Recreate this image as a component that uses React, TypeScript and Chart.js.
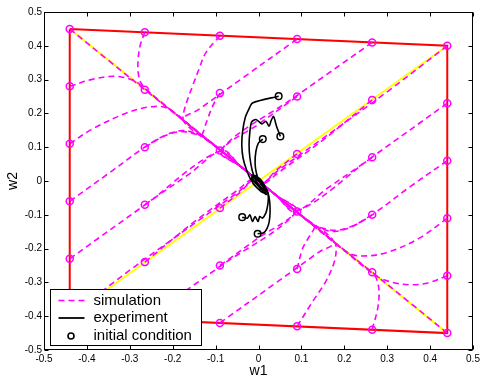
import React, { useEffect, useRef } from "react";
import { Chart, registerables } from "chart.js";

Chart.register(...registerables);

type P = [number, number];

const FONT = '"Liberation Sans", Arial, Helvetica, sans-serif';
const MAGENTA = "#ff00ff";

// axis ticks
const tickValues = [-0.5, -0.4, -0.3, -0.2, -0.1, 0, 0.1, 0.2, 0.3, 0.4, 0.5];
const xTickLabels = ["-0.5", "-0.4", "-0.3", "-0.2", "-0.1", "0", "0.1", "0.2", "0.3", "0.4", "0.5"];
const yTickLabels = ["-0.5", "-0.4", "-0.3", "-0.2", "-0.1", "0", "0.1", "0.2", "0.3", "0.4", "0.5"];
const axisTitles = { x: "w1", y: "w2" };
const legendLabels = ["simulation", "experiment", "initial condition"];

// red boundary and yellow lines
const boundary: P[] = [[-0.44, 0.45], [0.44, 0.40], [0.44, -0.45], [-0.44, -0.40], [-0.44, 0.45]];
const yellowDiag1: P[] = [[-0.44, 0.45], [0.44, -0.45]];
const yellowDiag2: P[] = [[0.44, 0.40], [-0.44, -0.40]];

// initial conditions (magenta circles)
const initRow1: P[] = [[-0.44, 0.45], [-0.265, 0.44], [-0.09, 0.43], [0.09, 0.42], [0.265, 0.41], [0.44, 0.40]];
const initRow2: P[] = [[-0.44, 0.28], [-0.265, 0.27], [-0.09, 0.26], [0.09, 0.25], [0.265, 0.24], [0.44, 0.23]];
const initRow3: P[] = [[-0.44, 0.11], [-0.265, 0.10], [-0.09, 0.09], [0.09, 0.08], [0.265, 0.07], [0.44, 0.06]];
const initRow4: P[] = [[-0.44, -0.06], [-0.265, -0.07], [-0.09, -0.08], [0.09, -0.09], [0.265, -0.10], [0.44, -0.11]];
const initRow5: P[] = [[-0.44, -0.23], [-0.265, -0.24], [-0.09, -0.25], [0.09, -0.26], [0.265, -0.27], [0.44, -0.28]];
const initRow6: P[] = [[-0.44, -0.40], [-0.265, -0.41], [-0.09, -0.42], [0.09, -0.43], [0.265, -0.44], [0.44, -0.45]];

// simulated trajectories
const simCornerUL: P[] = [[-0.44, 0.45], [-0.35, 0.357], [-0.265, 0.27], [-0.18, 0.184], [-0.09, 0.092], [0, 0]];
const simUL1: P[] = [[-0.44, 0.28], [-0.39, 0.3], [-0.335, 0.31], [-0.29, 0.297], [-0.27, 0.278], [-0.18, 0.185], [-0.09, 0.093], [0, 0]];
const simUL2: P[] = [[-0.265, 0.44], [-0.276, 0.4], [-0.281, 0.35], [-0.279, 0.31], [-0.268, 0.279], [-0.18, 0.185], [-0.09, 0.093], [0, 0]];
const simUL3: P[] = [[-0.44, 0.11], [-0.39, 0.152], [-0.31, 0.2], [-0.255, 0.219], [-0.212, 0.215], [-0.15, 0.154], [-0.07, 0.072], [0, 0]];
const simUL4: P[] = [[-0.44, -0.06], [-0.35, 0.022], [-0.265, 0.1], [-0.216, 0.136], [-0.178, 0.149], [-0.146, 0.141], [-0.123, 0.125], [-0.06, 0.062], [0, 0]];
const simUL5: P[] = [[-0.265, 0.1], [-0.218, 0.134], [-0.18, 0.146], [-0.148, 0.139], [-0.125, 0.127], [-0.06, 0.062], [0, 0]];
const simUL6: P[] = [[-0.09, 0.43], [-0.123, 0.379], [-0.139, 0.33], [-0.154, 0.28], [-0.168, 0.231], [-0.176, 0.192], [-0.174, 0.178], [-0.09, 0.093], [0, 0]];
const simUL7: P[] = [[-0.09, 0.26], [-0.107, 0.221], [-0.119, 0.182], [-0.128, 0.148], [-0.13, 0.134], [-0.06, 0.062], [0, 0]];
const simUR1: P[] = [[0.09, 0.42], [-0.04, 0.302], [-0.14, 0.211], [-0.176, 0.18], [-0.09, 0.093], [0, 0]];
const simUR2: P[] = [[0.265, 0.41], [0.09, 0.253], [-0.088, 0.091], [-0.04, 0.041], [0, 0]];
const simUR3: P[] = [[0.09, 0.25], [0.0, 0.168], [-0.086, 0.089], [-0.04, 0.041], [0, 0]];
const simUR4: P[] = [[0.44, 0.4], [0.3, 0.264], [0.15, 0.126], [0.05, 0.035], [0.008, -0.008], [0, 0]];
const simUR5: P[] = [[0.265, 0.24], [0.15, 0.121], [0.05, 0.028], [0.01, -0.01], [0, 0]];
const simUR6: P[] = [[0.09, 0.08], [0.04, 0.03], [0.01, -0.008], [0, 0]];
const simUR7: P[] = [[0.44, 0.23], [0.265, 0.071], [0.088, -0.09], [0.04, -0.041], [0, 0]];
const simUR8: P[] = [[0.265, 0.07], [0.16, -0.022], [0.086, -0.088], [0.04, -0.041], [0, 0]];
const simUR9: P[] = [[0.44, 0.06], [0.35, -0.02], [0.265, -0.1], [0.216, -0.136], [0.178, -0.149], [0.146, -0.141], [0.123, -0.125], [0.06, -0.062], [0, 0]];
const simCornerLR: P[] = [[0.44, -0.45], [0.35, -0.357], [0.265, -0.27], [0.18, -0.184], [0.09, -0.092], [0, 0]];
const simLR1: P[] = [[0.44, -0.28], [0.399, -0.3], [0.36, -0.307], [0.313, -0.3], [0.274, -0.28], [0.18, -0.185], [0.09, -0.093], [0, 0]];
const simLR2: P[] = [[0.265, -0.44], [0.278, -0.376], [0.281, -0.327], [0.276, -0.292], [0.268, -0.276], [0.18, -0.185], [0.09, -0.093], [0, 0]];
const simLR3: P[] = [[0.44, -0.11], [0.375, -0.169], [0.298, -0.212], [0.24, -0.222], [0.21, -0.213], [0.15, -0.154], [0.07, -0.072], [0, 0]];
const simLR4: P[] = [[0.265, -0.1], [0.218, -0.134], [0.18, -0.146], [0.148, -0.139], [0.125, -0.127], [0.06, -0.062], [0, 0]];
const simLR5: P[] = [[0.09, -0.43], [0.126, -0.357], [0.157, -0.297], [0.177, -0.238], [0.181, -0.195], [0.176, -0.18], [0.09, -0.093], [0, 0]];
const simLR6: P[] = [[0.09, -0.26], [0.103, -0.199], [0.118, -0.165], [0.128, -0.145], [0.13, -0.134], [0.06, -0.062], [0, 0]];
const simLL1: P[] = [[-0.09, -0.42], [0.04, -0.302], [0.14, -0.211], [0.176, -0.18], [0.09, -0.093], [0, 0]];
const simLL2: P[] = [[-0.265, -0.41], [-0.09, -0.253], [0.088, -0.091], [0.04, -0.041], [0, 0]];
const simLL3: P[] = [[-0.09, -0.25], [0.0, -0.168], [0.086, -0.089], [0.04, -0.041], [0, 0]];
const simLL4: P[] = [[-0.44, -0.4], [-0.3, -0.264], [-0.15, -0.126], [-0.05, -0.035], [-0.008, 0.008], [0, 0]];
const simLL5: P[] = [[-0.265, -0.24], [-0.15, -0.121], [-0.05, -0.028], [-0.01, 0.01], [0, 0]];
const simLL6: P[] = [[-0.09, -0.08], [-0.04, -0.03], [-0.01, 0.008], [0, 0]];
const simLL7: P[] = [[-0.44, -0.23], [-0.265, -0.071], [-0.088, 0.09], [-0.04, 0.041], [0, 0]];
const simLL8: P[] = [[-0.265, -0.07], [-0.16, 0.022], [-0.086, 0.088], [-0.04, 0.041], [0, 0]];

// experimental trajectories (black)
const exp1: P[] = [[0.047, 0.251], [-0.014, 0.231], [-0.023, 0.211], [-0.031, 0.187], [-0.037, 0.147], [-0.039, 0.108], [-0.036, 0.068], [-0.028, 0.033], [-0.018, 0.004], [-0.006, -0.016], [0.006, -0.031], [0.017, -0.036], [0.016, -0.018], [0.004, 0.006], [-0.012, 0.014], [-0.014, -0.004], [0.0, -0.024], [0.012, -0.022], [0.004, -0.006]];
const exp2: P[] = [[0.051, 0.132], [0.042, 0.162], [0.035, 0.191], [0.029, 0.177], [0.025, 0.162], [0.017, 0.177], [0.008, 0.169], [-0.006, 0.182], [-0.016, 0.175], [-0.02, 0.147], [-0.022, 0.108], [-0.02, 0.068], [-0.014, 0.028], [-0.005, -0.001], [0.008, -0.021], [0.015, -0.03], [0.01, -0.01], [-0.006, 0.008], [-0.016, 0.018], [-0.01, 0.0], [0.006, -0.02]];
const exp3: P[] = [[0.01, 0.124], [0.0, 0.113], [-0.006, 0.088], [-0.008, 0.053], [-0.005, 0.024], [0.002, -0.001], [0.013, -0.021], [0.018, -0.04], [0.01, -0.03], [-0.004, -0.01], [-0.016, 0.008], [-0.008, 0.016], [0.006, -0.004], [0.014, -0.026]];
const exp4: P[] = [[-0.038, -0.107], [-0.026, -0.11], [-0.02, -0.1], [-0.014, -0.12], [-0.008, -0.105], [-0.001, -0.12], [0.003, -0.105], [0.009, -0.11], [0.017, -0.095], [0.021, -0.075], [0.023, -0.05], [0.021, -0.031], [0.013, -0.016], [0.0, 0.0], [-0.01, 0.01]];
const exp5: P[] = [[-0.002, -0.156], [0.012, -0.153], [0.02, -0.14], [0.025, -0.12], [0.027, -0.09], [0.026, -0.06], [0.022, -0.035], [0.012, -0.012], [0.0, 0.004], [-0.012, 0.012]];
const expStarts: P[] = [[0.047, 0.251], [0.051, 0.132], [0.01, 0.124], [-0.038, -0.107], [-0.002, -0.156]];

const simulationRuns: P[][] = [
  simCornerUL, simUL1, simUL2, simUL3, simUL4, simUL5, simUL6, simUL7,
  simUR1, simUR2, simUR3, simUR4, simUR5, simUR6, simUR7, simUR8, simUR9,
  simCornerLR, simLR1, simLR2, simLR3, simLR4, simLR5, simLR6,
  simLL1, simLL2, simLL3, simLL4, simLL5, simLL6, simLL7, simLL8,
];
const experimentRuns: P[][] = [exp1, exp2, exp3, exp4, exp5];
const initialConditions: P[] = [...initRow1, ...initRow2, ...initRow3, ...initRow4, ...initRow5, ...initRow6];

const toXY = (pts: P[]) => pts.map(([x, y]) => ({ x, y }));

const framePlugin = {
  id: "matlabFrame",
  afterDatasetsDraw(chart: any) {
    const { ctx, chartArea: a, scales } = chart;
    ctx.save();
    ctx.strokeStyle = "#000";
    ctx.lineWidth = 1;
    ctx.setLineDash([]);
    const L = Math.round(a.left) + 0.5, R = Math.round(a.right) - 0.5;
    const T = Math.round(a.top) + 0.5, B = Math.round(a.bottom) - 0.5;
    ctx.strokeRect(L, T, R - L, B - T);
    const len = 4;
    ctx.beginPath();
    tickValues.forEach((v) => {
      const px = Math.round(scales.x.getPixelForValue(v)) + 0.5;
      ctx.moveTo(px, B); ctx.lineTo(px, B - len);
      ctx.moveTo(px, T); ctx.lineTo(px, T + len);
      const py = Math.round(scales.y.getPixelForValue(v)) + 0.5;
      ctx.moveTo(L, py); ctx.lineTo(L + len, py);
      ctx.moveTo(R, py); ctx.lineTo(R - len, py);
    });
    ctx.stroke();
    ctx.restore();
  },
  afterDraw(chart: any) {
    const { ctx, chartArea: a } = chart;
    const x0 = Math.round(a.left) + 6.5;
    const y1 = Math.round(a.bottom) - 4.5;
    const w = 151, h = 56;
    const y0 = y1 - h;
    ctx.save();
    ctx.fillStyle = "#fff";
    ctx.fillRect(x0, y0, w, h);
    ctx.strokeStyle = "#000";
    ctx.lineWidth = 1;
    ctx.setLineDash([]);
    ctx.strokeRect(x0, y0, w, h);
    const rows = [y0 + 11, y0 + 28.5, y0 + 46.5];
    ctx.strokeStyle = MAGENTA;
    ctx.lineWidth = 1.6;
    ctx.setLineDash([6, 4]);
    ctx.beginPath();
    ctx.moveTo(x0 + 8, rows[0]);
    ctx.lineTo(x0 + 34, rows[0]);
    ctx.stroke();
    ctx.setLineDash([]);
    ctx.strokeStyle = "#000";
    ctx.lineWidth = 1.8;
    ctx.beginPath();
    ctx.moveTo(x0 + 8, rows[1]);
    ctx.lineTo(x0 + 34, rows[1]);
    ctx.stroke();
    ctx.lineWidth = 1.6;
    ctx.beginPath();
    ctx.arc(x0 + 20.5, rows[2], 3, 0, Math.PI * 2);
    ctx.stroke();
    ctx.fillStyle = "#000";
    ctx.font = `15px ${FONT}`;
    ctx.textBaseline = "middle";
    ctx.textAlign = "left";
    legendLabels.forEach((t, i) => ctx.fillText(t, x0 + 43, rows[i]));
    ctx.restore();
  },
};

export default function App() {
  const ref = useRef<HTMLCanvasElement | null>(null);
  useEffect(() => {
    if (!ref.current) return;
    const datasets: any[] = [];
    datasets.push({
      data: toXY(expStarts), showLine: false, pointRadius: 3.3, pointBorderWidth: 1.5,
      pointBorderColor: "#000", pointBackgroundColor: "rgba(0,0,0,0)", order: 1,
    });
    datasets.push({
      data: toXY(initialConditions), showLine: false, pointRadius: 3.5, pointBorderWidth: 1.5,
      pointBorderColor: MAGENTA, pointBackgroundColor: "rgba(0,0,0,0)", order: 2,
    });
    experimentRuns.forEach((run) => datasets.push({
      data: toXY(run), showLine: true, borderColor: "#000", borderWidth: 1.6,
      pointRadius: 0, tension: 0.25, order: 3,
    }));
    simulationRuns.forEach((run) => datasets.push({
      data: toXY(run), showLine: true, borderColor: MAGENTA, borderWidth: 1.6,
      borderDash: [6, 4], pointRadius: 0, tension: 0.35, order: 4,
    }));
    datasets.push({
      data: toXY(boundary), showLine: true, borderColor: "#ff0000", borderWidth: 2,
      pointRadius: 0, tension: 0, order: 5,
    });
    [yellowDiag1, yellowDiag2].forEach((ln) => datasets.push({
      data: toXY(ln), showLine: true, borderColor: "#ffff00", borderWidth: 2,
      pointRadius: 0, tension: 0, order: 6,
    }));

    const tickFont = { size: 10, family: FONT };
    const chart = new Chart(ref.current, {
      type: "scatter",
      data: { datasets },
      options: {
        animation: false,
        responsive: false,
        devicePixelRatio: 1,
        layout: { padding: { left: 0, right: 7, top: 12, bottom: 0 } },
        plugins: { legend: { display: false }, tooltip: { enabled: false } },
        scales: {
          x: {
            type: "linear", min: -0.5, max: 0.5,
            ticks: {
              stepSize: 0.1, autoSkip: false, maxRotation: 0, padding: 3,
              color: "#000", font: tickFont,
              callback: (_v: any, i: number) => xTickLabels[i],
            },
            grid: { display: false, drawTicks: false },
            border: { display: false },
            title: { display: true, text: axisTitles.x, color: "#000", font: { size: 14, family: FONT }, padding: { top: 0, bottom: -1 } },
            afterFit: (s: any) => {
              s.height = 29;
              s.paddingLeft = 0; s.paddingRight = 0; s.paddingTop = 0; s.paddingBottom = 0;
            },
          },
          y: {
            type: "linear", min: -0.5, max: 0.5,
            ticks: {
              stepSize: 0.1, autoSkip: false, padding: 2,
              color: "#000", font: tickFont,
              callback: (_v: any, i: number) => yTickLabels[i],
            },
            grid: { display: false, drawTicks: false },
            border: { display: false },
            title: { display: true, text: axisTitles.y, color: "#000", font: { size: 14, family: FONT }, padding: { top: 5, bottom: 0 } },
            afterFit: (s: any) => {
              s.width = 44;
              s.paddingLeft = 0; s.paddingRight = 0; s.paddingTop = 0; s.paddingBottom = 0;
            },
          },
        },
      } as any,
      plugins: [framePlugin],
    });
    return () => chart.destroy();
  }, []);
  return (
    <div style={{ position: "absolute", left: 0, top: 0, width: 480, height: 379, background: "#fff" }}>
      <canvas ref={ref} width={480} height={379} style={{ display: "block" }} />
    </div>
  );
}
